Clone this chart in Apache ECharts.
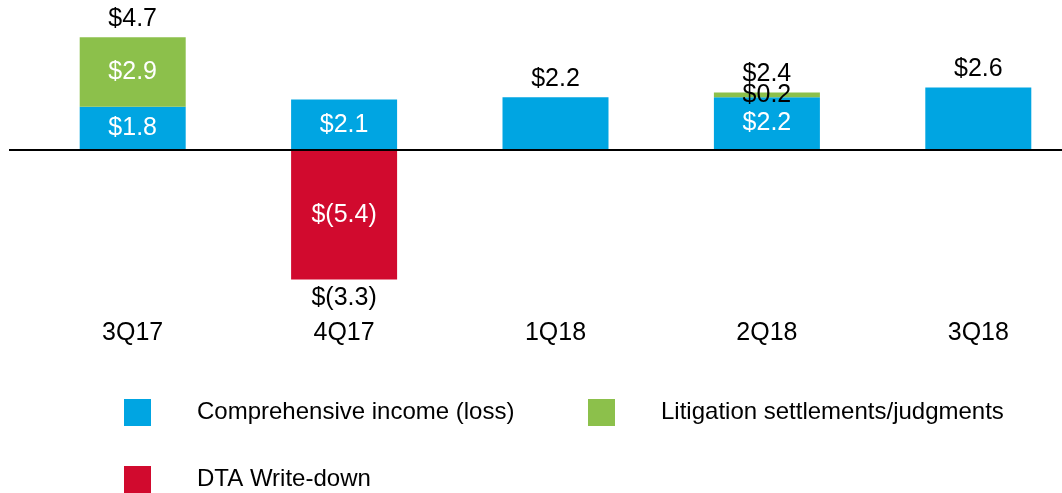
<!DOCTYPE html>
<html>
<head>
<meta charset="utf-8">
<script src="https://cdn.jsdelivr.net/npm/echarts@6/dist/echarts.min.js"></script>
<style>
  html, body { margin: 0; padding: 0; background: #fff; }
  #chart { width: 1062px; height: 493px; }
</style>
</head>
<body>
<div id="chart"></div>
<script>
// quarters on the x axis
var categories = ["3Q17", "4Q17", "1Q18", "2Q18", "3Q18"];
// $ values per quarter (null = no bar)
var income = [1.8, 2.1, 2.2, 2.2, 2.6];
var litigation = [2.9, null, null, 0.2, null];
var dtaWriteDown = [null, -5.4, null, null, null];
// quarters that show a total label outside the stack
var showTotal = [true, true, false, true, false];

var BLUE = "#00a5e2";
var GREEN = "#8cc04b";
var RED = "#d10a2e";
var FONT = "Liberation Sans, Arial, sans-serif";
var FS = 25;

function money(v) {
  if (v < 0) return "$(" + Math.abs(v).toFixed(1) + ")";
  return "$" + v.toFixed(1);
}

// income bars: label inside when something is stacked with it, else on top
var incomeData = income.map(function (v, i) {
  var inside = litigation[i] != null || dtaWriteDown[i] != null;
  return {
    value: v,
    label: inside
      ? { position: "inside", color: "#fff" }
      : { position: "top", color: "#000", distance: 6 },
  };
});

// totals: sit at the outer end of the stack
var totalData = categories.map(function (c, i) {
  if (!showTotal[i]) return null;
  var pos = 0, neg = 0;
  [income[i], litigation[i], dtaWriteDown[i]].forEach(function (v) {
    if (v == null) return;
    if (v >= 0) pos += v; else neg += v;
  });
  var total = Math.round((pos + neg) * 10) / 10;
  return {
    value: total < 0 ? neg : pos,
    total: total,
    label: { position: total < 0 ? "bottom" : "top" },
  };
});

var chart = echarts.init(document.getElementById("chart"));

var legendBase = {
  orient: "vertical",
  padding: 0,
  itemWidth: 27,
  itemHeight: 27,
  icon: "rect",
  selectedMode: false,
  textStyle: {
    fontFamily: FONT,
    fontSize: 24,
    color: "#000",
    padding: [0, 0, 0, 41],
  },
};

chart.setOption({
  animation: false,
  textStyle: { fontFamily: FONT },
  grid: { left: 27, top: 6, width: 1057, height: 288, outerBoundsMode: "none" },
  legend: [
    Object.assign({}, legendBase, { left: 124, top: 399, data: ["Comprehensive income (loss)"] }),
    Object.assign({}, legendBase, { left: 588, top: 399, data: ["Litigation settlements/judgments"] }),
    Object.assign({}, legendBase, { left: 124, top: 466, data: ["DTA Write-down"] }),
  ],
  xAxis: {
    type: "category",
    data: categories,
    position: "bottom",
    axisLine: { show: false, onZero: false },
    axisTick: { show: false },
    axisLabel: { fontSize: FS, color: "#000", margin: 27, fontFamily: FONT },
  },
  yAxis: {
    type: "value",
    min: -6,
    max: 6,
    show: false,
    splitLine: { show: false },
  },
  series: [
    {
      name: "Comprehensive income (loss)",
      type: "bar",
      stack: "a",
      barWidth: 106,
      itemStyle: { color: BLUE },
      label: { show: true, fontSize: FS, fontFamily: FONT, formatter: function (p) { return money(p.value); } },
      data: incomeData,
    },
    {
      name: "Litigation settlements/judgments",
      type: "bar",
      stack: "a",
      barWidth: 106,
      itemStyle: { color: GREEN },
      label: {
        show: true,
        position: "inside",
        fontSize: FS,
        fontFamily: FONT,
        formatter: function (p) { return p.value == null ? "" : money(p.value); },
      },
      data: litigation.map(function (v) {
        return v == null ? null : { value: v, label: { color: v < 1 ? "#000" : "#fff" } };
      }),
    },
    {
      name: "DTA Write-down",
      type: "bar",
      stack: "a",
      barWidth: 106,
      itemStyle: { color: RED },
      label: {
        show: true,
        position: "inside",
        fontSize: FS,
        fontFamily: FONT,
        color: "#fff",
        formatter: function (p) { return p.value == null ? "" : money(p.value); },
      },
      data: dtaWriteDown,
    },
    {
      name: "total",
      type: "scatter",
      symbolSize: 0,
      silent: true,
      z: 5,
      itemStyle: { opacity: 1 },
      label: {
        show: true,
        fontSize: FS,
        fontFamily: FONT,
        color: "#000",
        distance: 6,
        formatter: function (p) { return money(p.data.total); },
      },
      data: totalData,
    },
  ],
});

// zero line running across the full width
var zeroY = chart.convertToPixel({ yAxisIndex: 0 }, 0);
chart.setOption({
  graphic: [
    {
      type: "line",
      z: 100,
      shape: { x1: 9, y1: zeroY, x2: 1062, y2: zeroY },
      style: { stroke: "#000", lineWidth: 2 },
    },
  ],
});
</script>
</body>
</html>
